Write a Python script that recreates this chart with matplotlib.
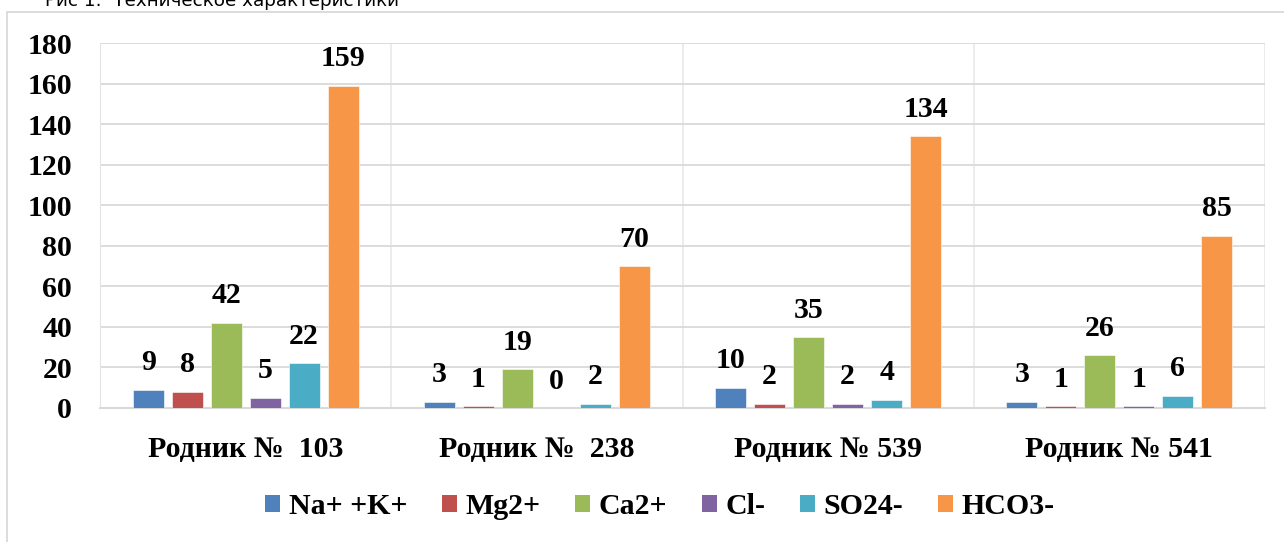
import numpy as np
import matplotlib
matplotlib.use('Agg')
import matplotlib.pyplot as plt
from matplotlib.patches import Patch, Rectangle

# data
springs = ['Родник №  103', 'Родник №  238', 'Родник № 539', 'Родник № 541']
ions = ['Na+ +K+', 'Mg2+', 'Ca2+', 'Cl-', 'SO24-', 'HCO3-']
na_k = [9, 3, 10, 3]
mg = [8, 1, 2, 1]
ca = [42, 19, 35, 26]
cl = [5, 0, 2, 1]
so4 = [22, 2, 4, 6]
hco3 = [159, 70, 134, 85]
colors = ['#4F81BD', '#C0504D', '#9BBB59', '#8064A2', '#4BACC6', '#F79646']

series = [na_k, mg, ca, cl, so4, hco3]
serif = 'Liberation Serif'
fs = 21.5

fig = plt.figure(figsize=(12.84, 5.42), dpi=100, facecolor='white')
ax = fig.add_axes([100/1284, 1-408/542, 1165/1284, 365/542])

x = np.arange(len(springs))
slot = 39/291.25
width = 31/291.25
for k, (vals, c) in enumerate(zip(series, colors)):
    pos = x + (k - 2.5)*slot
    ax.bar(pos, vals, width=width, color=c, edgecolor='white', linewidth=0.4, zorder=3)
    for p, v in zip(pos, vals):
        ax.annotate(str(v), (p, v), xytext=(0, 14), textcoords='offset points',
                    ha='center', va='baseline', fontsize=fs, fontweight='bold',
                    family=serif, zorder=4)

ax.set_ylim(0, 180)
ax.set_yticks(np.arange(0, 181, 20))
ax.set_xlim(-0.5, 3.5)
ax.set_xticks(x)
ax.set_xticklabels(springs)
ax.set_xticks(np.arange(-0.5, 3.6, 0.5), minor=True)

for lbl in ax.get_xticklabels() + ax.get_yticklabels():
    lbl.set_family(serif)
    lbl.set_fontweight('bold')
    lbl.set_fontsize(fs)
ax.tick_params(axis='y', length=0, pad=20)
ax.tick_params(axis='x', which='both', length=0, pad=20)

ax.grid(axis='y', color='#D9D9D9', linewidth=1.3, zorder=0)
ax.grid(axis='x', which='minor', color='#EBEBEB', linewidth=1.3, zorder=0)
ax.grid(axis='x', which='major', visible=False)
for s in ['top', 'right']:
    ax.spines[s].set_visible(False)
ax.spines['left'].set_color('#E3E3E3')
ax.spines['bottom'].set_color('#D9D9D9')
ax.spines['bottom'].set_linewidth(1.5)

handles = [Patch(facecolor=c, edgecolor='none') for c in colors]
leg = fig.legend(handles, ions, loc='center', bbox_to_anchor=(660/1284, 1-507/542),
                 ncol=6, frameon=False, handlelength=0.5, handleheight=0.5,
                 handletextpad=0.3, columnspacing=1.15, fontsize=fs)
for t in leg.get_texts():
    t.set_family(serif)
    t.set_fontweight('bold')
    t.set_fontsize(fs)

# chart area border and the cut-off caption above it
fig.patches.append(Rectangle((7/1284, -0.1), 1.2, 1.1 - 12/542, transform=fig.transFigure,
                             fill=False, edgecolor='#D9D9D9', linewidth=1.3))
fig.text(45/1284, 1-6/542, 'Рис 1.  Техническое характеристики', fontsize=13.2,
         family='DejaVu Sans', va='baseline', ha='left')

fig.savefig('out.png', dpi=100, facecolor='white')
